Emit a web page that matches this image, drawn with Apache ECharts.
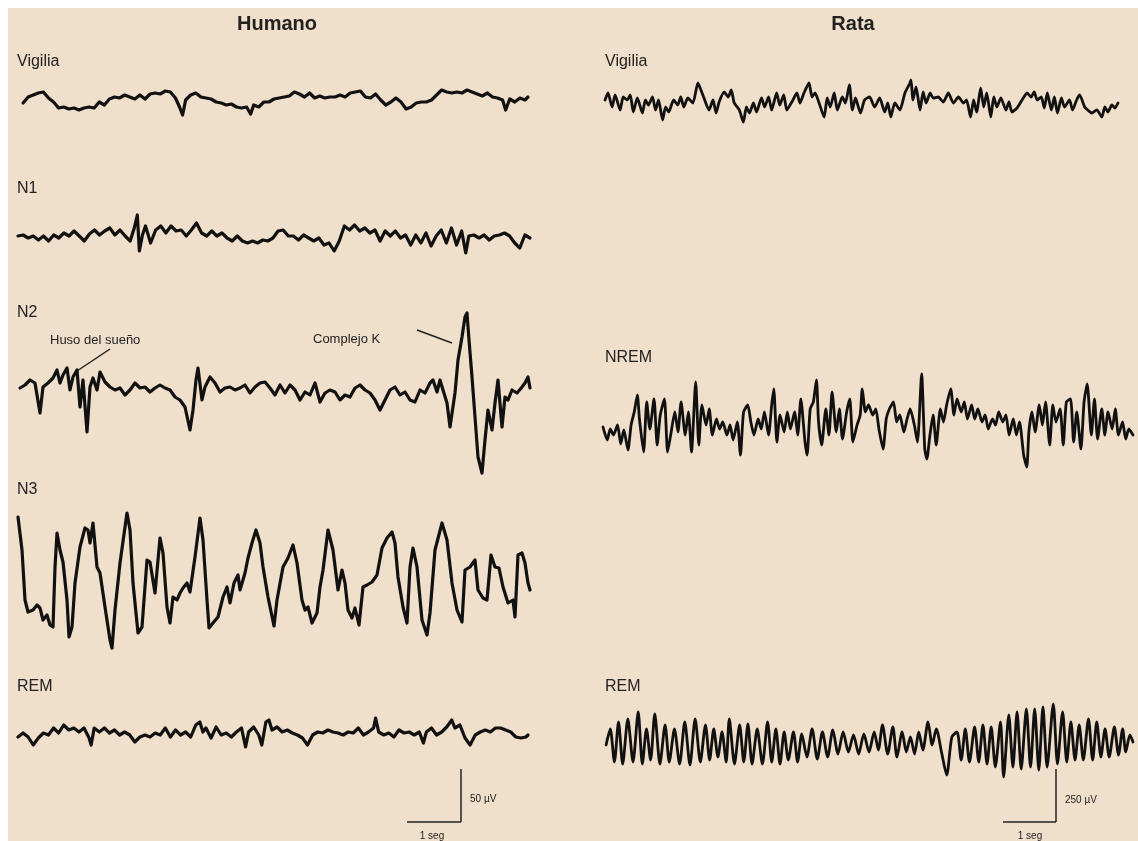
<!DOCTYPE html>
<html>
<head>
<meta charset="utf-8">
<script src="https://cdn.jsdelivr.net/npm/echarts@6/dist/echarts.min.js"></script>
<style>
html, body { margin: 0; padding: 0; background: #fff; }
#main { width: 1138px; height: 841px; }
</style>
</head>
<body>
<div id="main"></div>
<script>
// EEG traces, [sample, uV] pairs (sample = 1/54 s)
var humanVigilia = [[5,-3],[10,3],[15,5],[20,7],[25,8],[30,2],[35,-2],[40,-8],[45,-7],[50,-9],[55,-8],[60,-10],[65,-8],[70,-7],[75,-8],[80,-2],[85,-5],[90,1],[95,3],[100,2],[105,5],[110,3],[115,1],[120,5],[125,1],[130,6],[135,7],[140,6],[145,9],[150,8],[155,2],[159,-7],[162,-15],[165,0],[170,5],[175,7],[180,3],[185,2],[190,1],[195,-2],[200,-3],[205,-5],[210,-4],[215,-7],[220,-8],[225,-7],[229,-14],[232,-5],[237,-7],[242,-2],[247,-2],[252,1],[257,2],[262,3],[267,4],[272,8],[277,6],[282,3],[287,7],[292,2],[297,4],[302,2],[307,3],[312,3],[317,5],[322,3],[327,7],[332,8],[337,9],[342,3],[347,2],[352,6],[357,0],[362,-5],[367,-2],[372,2],[377,-2],[382,-9],[387,-7],[392,-3],[397,-2],[402,-2],[407,0],[412,5],[417,10],[422,8],[427,7],[432,8],[437,7],[442,10],[447,8],[452,6],[457,4],[462,7],[467,3],[472,2],[477,0],[480,-10],[484,1],[489,-2],[494,2],[499,0],[502,3]];

var humanN1 = [[0,2],[5,3],[10,0],[15,2],[20,-2],[25,2],[30,-3],[35,3],[40,0],[45,5],[50,2],[55,7],[60,2],[65,-3],[70,4],[75,8],[80,3],[85,7],[90,10],[95,3],[100,8],[105,2],[110,-3],[114,10],[117,23],[119,-13],[122,3],[125,12],[130,-5],[135,8],[140,12],[145,5],[150,12],[155,7],[160,8],[165,2],[170,8],[175,15],[180,5],[185,2],[190,7],[195,2],[200,5],[205,0],[210,-3],[215,2],[220,-3],[225,-5],[230,-3],[235,-5],[240,-2],[245,-3],[250,0],[255,7],[260,8],[265,2],[270,2],[275,-2],[280,3],[285,0],[290,-3],[295,0],[300,-7],[305,-5],[310,-13],[315,-3],[320,12],[325,8],[330,13],[335,7],[340,10],[345,5],[350,8],[355,-3],[360,7],[365,2],[370,7],[375,0],[380,3],[385,-7],[390,3],[395,-5],[400,5],[405,-8],[410,2],[415,8],[420,-5],[425,10],[430,-7],[435,7],[439,-15],[442,2],[447,3],[452,0],[457,3],[462,-2],[467,2],[472,3],[477,5],[482,2],[487,-5],[492,-10],[497,3],[502,0]];

var humanN2 = [[2,2],[7,5],[12,10],[17,7],[22,-23],[25,3],[30,7],[35,12],[39,20],[42,7],[45,15],[49,22],[52,0],[55,13],[59,20],[62,-17],[65,10],[69,-42],[72,3],[75,12],[79,0],[82,18],[87,8],[92,3],[97,0],[102,2],[107,-5],[112,0],[117,7],[122,2],[127,3],[132,-2],[137,2],[142,5],[147,2],[152,0],[157,-7],[162,-10],[167,-17],[172,-40],[175,-20],[178,10],[180,22],[184,-10],[187,3],[192,13],[197,7],[202,-2],[207,2],[212,3],[217,0],[222,2],[227,5],[232,-3],[237,3],[242,7],[247,8],[252,2],[257,-5],[262,5],[267,-3],[272,5],[277,0],[282,-10],[287,-2],[292,-5],[297,7],[302,-12],[307,-3],[312,0],[317,-2],[322,-10],[327,-5],[332,-7],[337,2],[342,5],[347,0],[352,-3],[357,-10],[362,-20],[367,-10],[372,0],[377,3],[382,-5],[387,-2],[392,-10],[397,-12],[402,0],[407,-3],[412,7],[415,10],[419,-2],[422,10],[425,0],[429,-13],[432,-37],[437,-3],[440,30],[444,53],[447,73],[449,77],[451,50],[454,13],[457,-27],[460,-67],[464,-83],[467,-50],[470,-20],[474,-40],[477,-13],[480,10],[484,-37],[487,-7],[490,-10],[494,0],[499,-3],[504,3],[507,7],[510,13],[512,2]];

var humanN3 = [[0,63],[4,30],[7,-20],[10,-32],[15,-30],[19,-25],[22,-28],[25,-40],[29,-35],[32,-45],[35,-47],[37,13],[39,47],[42,30],[45,18],[49,-20],[51,-57],[54,-47],[57,-3],[62,33],[67,52],[70,50],[72,37],[75,57],[79,13],[82,7],[87,-27],[92,-60],[94,-68],[97,-30],[102,17],[107,53],[109,67],[112,50],[115,-3],[120,-53],[124,-47],[129,20],[132,18],[137,-13],[142,42],[145,27],[149,-27],[152,-43],[155,-17],[159,-20],[162,-13],[165,-8],[169,-3],[172,-12],[177,23],[182,62],[185,40],[189,-20],[191,-48],[195,-43],[200,-37],[205,-17],[209,-7],[212,-23],[216,-3],[220,5],[222,-10],[227,7],[230,22],[234,37],[238,50],[242,37],[245,13],[250,-17],[256,-46],[259,-20],[265,13],[270,22],[275,35],[279,17],[284,-20],[287,-30],[290,-27],[294,-43],[299,-33],[302,-7],[305,10],[310,50],[315,30],[320,-10],[324,10],[327,-3],[330,-30],[334,-38],[337,-28],[341,-45],[345,-7],[349,-5],[354,-2],[359,5],[364,32],[369,42],[374,48],[377,37],[380,3],[385,-27],[389,-43],[392,13],[395,32],[399,13],[404,-40],[409,-55],[412,-33],[417,30],[424,57],[429,40],[434,-3],[439,-30],[444,-42],[447,10],[452,13],[457,20],[460,-10],[465,-18],[469,-20],[473,25],[477,13],[481,12],[485,-7],[490,-23],[495,-20],[497,-37],[500,25],[504,27],[507,17],[510,-3],[512,-10]];

var humanREM = [[0,-2],[5,2],[10,-2],[15,-10],[20,-3],[25,2],[30,0],[35,7],[40,2],[45,10],[50,5],[55,7],[60,3],[65,7],[70,-3],[72,-10],[75,7],[80,3],[85,7],[90,2],[95,5],[100,0],[105,3],[110,0],[115,-7],[120,-2],[125,0],[130,-2],[135,2],[140,0],[145,7],[150,-2],[155,5],[160,0],[165,3],[170,-2],[175,10],[179,13],[182,3],[185,7],[190,-3],[195,8],[200,0],[205,2],[210,-2],[215,3],[220,7],[224,-12],[227,3],[232,8],[237,0],[240,-10],[244,13],[247,15],[250,5],[255,8],[260,3],[265,5],[270,2],[275,0],[280,-3],[285,-10],[290,0],[295,3],[300,2],[305,5],[310,3],[315,2],[320,0],[325,3],[330,2],[335,7],[340,0],[345,3],[350,7],[352,17],[355,3],[360,0],[365,2],[370,-2],[375,5],[380,2],[385,3],[390,0],[395,3],[399,-8],[402,3],[407,7],[412,0],[417,3],[422,8],[427,15],[430,7],[435,10],[440,-3],[445,-10],[450,0],[455,3],[460,5],[465,3],[470,7],[475,7],[480,5],[485,3],[490,-2],[495,-3],[500,-2],[502,0]];

var ratVigilia = [[2,5],[5,12],[9,-2],[12,10],[17,-5],[20,8],[24,5],[27,10],[30,-7],[34,7],[39,-8],[42,5],[45,0],[49,8],[52,-5],[55,5],[59,-15],[62,-2],[65,-7],[70,5],[74,0],[77,8],[80,-2],[84,7],[89,2],[94,22],[97,15],[100,7],[105,-5],[109,5],[112,-8],[115,3],[120,13],[124,8],[127,15],[130,2],[135,-5],[139,-17],[142,-2],[145,-8],[149,2],[152,-7],[157,7],[160,-2],[164,8],[167,-5],[172,12],[175,0],[179,10],[182,-5],[187,3],[192,12],[195,2],[199,12],[204,22],[207,8],[210,12],[214,2],[219,-12],[222,7],[225,-2],[229,12],[232,-5],[237,8],[240,2],[244,20],[247,-5],[250,7],[255,-8],[259,5],[264,8],[269,-2],[274,7],[279,-7],[282,2],[285,-12],[289,2],[294,-5],[299,12],[304,22],[305,25],[307,5],[310,18],[314,-5],[317,13],[320,2],[324,12],[327,7],[332,8],[337,3],[342,12],[347,2],[352,8],[357,2],[360,5],[364,-12],[367,5],[370,-7],[374,17],[377,-2],[380,12],[384,-12],[387,8],[390,-2],[394,7],[399,-5],[402,3],[405,-7],[410,-3],[415,5],[420,12],[424,8],[427,13],[430,5],[434,8],[437,-3],[440,12],[444,-5],[447,8],[450,-8],[454,7],[457,-2],[462,5],[465,-5],[469,5],[472,10],[477,-2],[480,-5],[484,-8],[489,-5],[494,-12],[497,-2],[500,-7],[504,0],[507,-3],[510,2]];

var ratNREM = [[0,5],[4,-8],[7,3],[10,-3],[14,7],[17,-12],[20,2],[24,-18],[27,7],[30,20],[33,37],[35,13],[39,-20],[42,30],[45,3],[49,33],[52,-13],[55,17],[59,33],[62,-20],[65,-3],[69,20],[72,0],[75,30],[79,-3],[82,20],[85,-20],[89,50],[92,-13],[95,27],[99,7],[102,23],[105,-3],[109,13],[112,3],[115,10],[119,-3],[122,7],[125,-8],[129,10],[132,-23],[135,20],[139,27],[142,10],[145,-3],[149,13],[152,3],[155,20],[159,-3],[162,27],[164,43],[167,-10],[170,17],[174,0],[177,20],[180,3],[184,20],[187,-3],[190,33],[194,-10],[196,-23],[199,23],[202,30],[205,52],[207,10],[210,-13],[214,23],[217,-3],[220,40],[224,0],[227,23],[230,-7],[234,20],[237,33],[240,-10],[244,7],[247,17],[249,43],[252,20],[255,27],[259,17],[262,23],[265,3],[269,-17],[272,13],[275,23],[279,30],[282,10],[285,17],[289,0],[292,13],[295,23],[299,7],[302,-10],[306,58],[309,-17],[311,-27],[314,-3],[317,17],[320,-13],[324,23],[327,10],[330,27],[334,43],[337,17],[340,33],[344,20],[347,30],[350,13],[354,27],[357,13],[360,23],[364,10],[367,17],[370,3],[374,13],[377,7],[380,20],[384,10],[387,17],[390,-3],[394,13],[397,-3],[400,10],[404,-23],[407,-35],[409,0],[412,20],[415,0],[419,27],[422,7],[425,30],[429,-13],[432,27],[435,10],[439,23],[442,-13],[445,30],[449,33],[452,-10],[455,20],[459,-17],[462,30],[465,48],[469,-3],[472,33],[475,-7],[479,23],[482,-3],[485,20],[489,3],[492,23],[495,-3],[499,10],[502,-7],[505,3],[509,-3]];

var ratREM = [[3,-3],[7,13],[11,-20],[15,20],[19,-22],[24,23],[29,-20],[34,30],[38,-22],[42,13],[46,-18],[50,28],[55,-22],[60,17],[64,-20],[69,13],[74,-22],[79,20],[84,-23],[89,23],[94,-20],[99,17],[103,-18],[107,13],[111,-15],[115,10],[119,-20],[122,23],[127,-22],[132,17],[136,-20],[140,18],[144,-22],[149,13],[154,-22],[159,20],[163,-20],[167,13],[171,-22],[175,10],[179,-18],[184,10],[188,-20],[192,8],[197,-15],[202,13],[207,-17],[212,10],[217,-15],[222,12],[227,-12],[232,10],[237,-10],[242,7],[247,-12],[252,8],[257,-10],[262,10],[266,-8],[270,17],[275,-12],[280,15],[284,-15],[289,10],[293,-10],[297,5],[301,-12],[305,10],[309,-8],[314,20],[318,-3],[322,13],[327,-10],[332,-33],[337,5],[342,10],[346,-18],[350,13],[354,-20],[359,15],[363,-20],[367,17],[371,-22],[375,15],[379,-25],[384,20],[387,-35],[392,27],[396,-25],[400,30],[404,-27],[409,33],[413,-25],[417,33],[421,-28],[425,35],[429,-25],[435,38],[439,-22],[444,30],[448,-20],[452,20],[456,-18],[460,17],[464,-18],[469,23],[473,-18],[477,20],[481,-15],[485,13],[489,-15],[494,15],[498,-13],[502,13],[505,-10],[509,7],[512,0]];

var humanLabels = ['Vigilia', 'N1', 'N2', 'N3', 'REM'];
var ratLabels = ['Vigilia', 'NREM', 'REM'];

// left edge, baseline, right end of each trace on the page
var traces = [
    {data: humanVigilia, left: 18, base: 100, right: 528, lw: 3.2, smooth: false},
    {data: humanN1, left: 18, base: 238, right: 530, lw: 3.2, smooth: false},
    {data: humanN2, left: 18, base: 390, right: 530, lw: 3.2, smooth: false},
    {data: humanN3, left: 18, base: 580, right: 530, lw: 3.2, smooth: false},
    {data: humanREM, left: 18, base: 735, right: 528, lw: 3.2, smooth: false},
    {data: ratVigilia, left: 603, base: 105, right: 1118, lw: 2.8, smooth: 0.2},
    {data: ratNREM, left: 603, base: 432, right: 1133, lw: 2.8, smooth: 0.2},
    {data: ratREM, left: 603, base: 742, right: 1133, lw: 2.8, smooth: 0.25}
];

var grids = [], xAxes = [], yAxes = [], series = [];
traces.forEach(function (t, i) {
    var last = t.data[t.data.length - 1][0];
    grids.push({left: t.left, top: t.base - 90, width: t.right - t.left, height: 180});
    xAxes.push({type: 'value', gridIndex: i, min: 0, max: last, show: false});
    yAxes.push({type: 'value', gridIndex: i, min: -90, max: 90, show: false});
    series.push({
        type: 'line', xAxisIndex: i, yAxisIndex: i, data: t.data,
        showSymbol: false, silent: true, smooth: t.smooth,
        lineStyle: {color: '#111', width: t.lw, join: 'round', cap: 'round'}
    });
});

function label(text, x, y, size, weight, align) {
    return {
        type: 'text', x: x, y: y, silent: true,
        style: {
            text: text, fill: '#222', font: (weight || 'normal') + ' ' + size + 'px "Liberation Sans", Arial, sans-serif',
            textAlign: align || 'left', textVerticalAlign: 'middle'
        }
    };
}
function seg(x1, y1, x2, y2, w) {
    return {type: 'line', silent: true, shape: {x1: x1, y1: y1, x2: x2, y2: y2},
        style: {stroke: '#222', lineWidth: w || 1.5}};
}

var humanLabelY = [62, 189, 313, 490, 687];
var ratLabelY = [62, 358, 687];
var graphics = [
    {type: 'rect', shape: {x: 8, y: 8, width: 1130, height: 833}, style: {fill: '#f0dfca'}, z: -10, silent: true},
    label('Humano', 277, 24, 20, 'bold', 'center'),
    label('Rata', 853, 24, 20, 'bold', 'center'),
    label('Huso del sueño', 50, 340, 13),
    seg(110, 349, 77, 371),
    label('Complejo K', 313, 339, 13),
    seg(417, 330, 452, 343),
    // scale bars
    seg(407, 822, 461, 822, 1.5), seg(461, 769, 461, 822, 1.5),
    label('50 µV', 470, 799, 10), label('1 seg', 432, 836, 10, 'normal', 'center'),
    seg(1003, 822, 1056, 822, 1.5), seg(1056, 769, 1056, 822, 1.5),
    label('250 µV', 1065, 800, 10), label('1 seg', 1030, 836, 10, 'normal', 'center')
];
humanLabels.forEach(function (s, i) { graphics.push(label(s, 17, humanLabelY[i], 16)); });
ratLabels.forEach(function (s, i) { graphics.push(label(s, 605, ratLabelY[i], 16)); });

var myChart = echarts.init(document.getElementById('main'));
var option = {
    backgroundColor: '#fff',
    animation: false,
    grid: grids,
    xAxis: xAxes,
    yAxis: yAxes,
    series: series,
    graphic: graphics
};
myChart.setOption(option);
</script>
</body>
</html>
